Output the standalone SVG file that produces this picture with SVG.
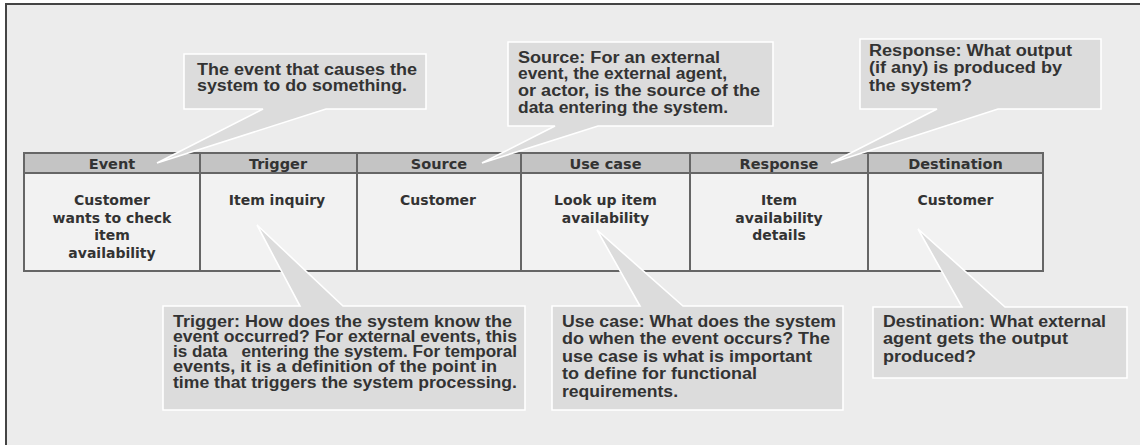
<svg xmlns="http://www.w3.org/2000/svg" width="1140" height="445" viewBox="0 0 1140 445">
<style>
.frame{fill:none;stroke:#444;stroke-width:2}
.hd{fill:#c4c4c4;stroke:#666;stroke-width:2}
.bd{fill:#f2f2f2;stroke:#666;stroke-width:2}
.ht{font-family:"DejaVu Sans",sans-serif;font-weight:bold;font-size:14.5px;fill:#333;text-anchor:middle}
.bt{font-family:"DejaVu Sans",sans-serif;font-weight:bold;font-size:14px;fill:#333;text-anchor:middle}
.co{fill:#dcdcdc;stroke:#fff;stroke-width:1.6;stroke-linejoin:miter}
.ct{font-family:"Liberation Sans",Arial,sans-serif;font-weight:bold;font-size:16px;fill:#333}
</style>
<rect x="0" y="0" width="1140" height="445" fill="#ffffff"/>
<rect x="6" y="4" width="1134" height="441" fill="#ececec"/>
<path class="frame" d="M6,445 V4 H1140"/>

<g id="table">
  <g id="col-event">
    <rect class="hd" x="24" y="153" width="176" height="20"/>
    <rect class="bd" x="24" y="173" width="176" height="98"/>
    <text class="ht" x="112" y="169">Event</text>
    <text class="bt" x="112" y="205">Customer</text>
    <text class="bt" x="112" y="222.5">wants to check</text>
    <text class="bt" x="112" y="240">item</text>
    <text class="bt" x="112" y="257.5">availability</text>
  </g>
  <g id="col-trigger">
    <rect class="hd" x="200" y="153" width="157" height="20"/>
    <rect class="bd" x="200" y="173" width="157" height="98"/>
    <text class="ht" x="278" y="169">Trigger</text>
    <text class="bt" x="277" y="205">Item inquiry</text>
  </g>
  <g id="col-source">
    <rect class="hd" x="357" y="153" width="164" height="20"/>
    <rect class="bd" x="357" y="173" width="164" height="98"/>
    <text class="ht" x="439" y="169">Source</text>
    <text class="bt" x="438" y="205">Customer</text>
  </g>
  <g id="col-usecase">
    <rect class="hd" x="521" y="153" width="169" height="20"/>
    <rect class="bd" x="521" y="173" width="169" height="98"/>
    <text class="ht" x="605.5" y="169">Use case</text>
    <text class="bt" x="605.5" y="205">Look up item</text>
    <text class="bt" x="605.5" y="222.5">availability</text>
  </g>
  <g id="col-response">
    <rect class="hd" x="690" y="153" width="178" height="20"/>
    <rect class="bd" x="690" y="173" width="178" height="98"/>
    <text class="ht" x="779" y="169">Response</text>
    <text class="bt" x="779" y="205">Item</text>
    <text class="bt" x="779" y="222.5">availability</text>
    <text class="bt" x="779" y="240">details</text>
  </g>
  <g id="col-destination">
    <rect class="hd" x="868" y="153" width="175" height="20"/>
    <rect class="bd" x="868" y="173" width="175" height="98"/>
    <text class="ht" x="955.5" y="169">Destination</text>
    <text class="bt" x="955.5" y="205">Customer</text>
  </g>
</g>

<g id="callout-event">
  <path class="co" d="M184,54 H426 V109 H326 L157,163 L263,109 H184 Z"/>
  <text class="ct" x="197" y="75" textLength="220" lengthAdjust="spacingAndGlyphs">The event that causes the</text>
  <text class="ct" x="197" y="91" textLength="210" lengthAdjust="spacingAndGlyphs">system to do something.</text>
</g>

<g id="callout-source">
  <path class="co" d="M508,42 H773 V126 H598 L482,163 L555,126 H508 Z"/>
  <text class="ct" x="518" y="63" textLength="202" lengthAdjust="spacingAndGlyphs">Source: For an external</text>
  <text class="ct" x="518" y="79" textLength="209" lengthAdjust="spacingAndGlyphs">event, the external agent,</text>
  <text class="ct" x="518" y="96" textLength="242" lengthAdjust="spacingAndGlyphs">or actor, is the source of the</text>
  <text class="ct" x="518" y="113" textLength="210" lengthAdjust="spacingAndGlyphs">data entering the system.</text>
</g>

<g id="callout-response">
  <path class="co" d="M860,39 H1101 V109 H998 L831,163 L937,109 H860 Z"/>
  <text class="ct" x="869" y="56" textLength="203" lengthAdjust="spacingAndGlyphs">Response: What output</text>
  <text class="ct" x="869" y="73" textLength="193" lengthAdjust="spacingAndGlyphs">(if any) is produced by</text>
  <text class="ct" x="869" y="91" textLength="103" lengthAdjust="spacingAndGlyphs">the system?</text>
</g>

<g id="callout-trigger">
  <path class="co" d="M163,306 H300 L257,225 L343,306 H525 V410 H163 Z"/>
  <text class="ct" x="173" y="327" textLength="339" lengthAdjust="spacingAndGlyphs">Trigger: How does the system know the</text>
  <text class="ct" x="173" y="342" textLength="344" lengthAdjust="spacingAndGlyphs">event occurred? For external events, this</text>
  <text class="ct" x="173" y="357" textLength="344" lengthAdjust="spacingAndGlyphs">is data&#160;&#160; entering the system. For temporal</text>
  <text class="ct" x="173" y="372" textLength="324" lengthAdjust="spacingAndGlyphs">events, it is a definition of the point in</text>
  <text class="ct" x="173" y="388" textLength="344" lengthAdjust="spacingAndGlyphs">time that triggers the system processing.</text>
</g>

<g id="callout-usecase">
  <path class="co" d="M552,306 H640 L597,230 L683,306 H843 V410 H552 Z"/>
  <text class="ct" x="562" y="327" textLength="274" lengthAdjust="spacingAndGlyphs">Use case: What does the system</text>
  <text class="ct" x="562" y="344" textLength="268" lengthAdjust="spacingAndGlyphs">do when the event occurs? The</text>
  <text class="ct" x="562" y="362" textLength="250" lengthAdjust="spacingAndGlyphs">use case is what is important</text>
  <text class="ct" x="562" y="379" textLength="195" lengthAdjust="spacingAndGlyphs">to define for functional</text>
  <text class="ct" x="562" y="397" textLength="116" lengthAdjust="spacingAndGlyphs">requirements.</text>
</g>

<g id="callout-destination">
  <path class="co" d="M873,307 H962 L918,229 L1005,307 H1127 V378 H873 Z"/>
  <text class="ct" x="883" y="327" textLength="223" lengthAdjust="spacingAndGlyphs">Destination: What external</text>
  <text class="ct" x="883" y="344" textLength="185" lengthAdjust="spacingAndGlyphs">agent gets the output</text>
  <text class="ct" x="883" y="362" textLength="93" lengthAdjust="spacingAndGlyphs">produced?</text>
</g>
</svg>
